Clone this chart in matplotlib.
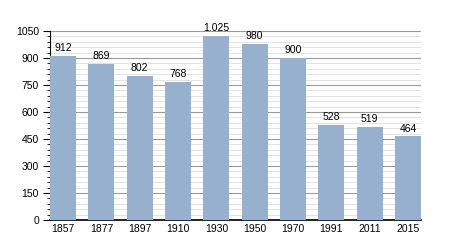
import numpy as np
import matplotlib.pyplot as plt
from matplotlib.ticker import MultipleLocator

plt.rcParams['font.family'] = ['Liberation Sans', 'DejaVu Sans']

years = ['1857', '1877', '1897', '1910', '1930', '1950', '1970', '1991', '2011', '2015']
population = [912, 869, 802, 768, 1025, 980, 900, 528, 519, 464]
labels = ['912', '869', '802', '768', '1.025', '980', '900', '528', '519', '464']

fig = plt.figure(figsize=(4.5, 2.5), dpi=100)
ax = fig.add_axes([50 / 450, 30 / 250, 371 / 450, 189 / 250])

x = np.arange(len(years))
ax.bar(x, population, width=0.68, color='#97b0cd', zorder=3)
for xi, v, lab in zip(x, population, labels):
    ax.text(xi, v + 15, lab, ha='center', va='bottom', fontsize=7.5, zorder=4)

ax.set_xlim(-0.34, len(years) - 1 + 0.34)
ax.set_ylim(0, 1050)
ax.set_xticks(x)
ax.set_xticklabels(years)
ax.yaxis.set_major_locator(MultipleLocator(150))
ax.yaxis.set_minor_locator(MultipleLocator(30))
ax.grid(axis='y', which='major', color='#999999', linewidth=0.8, zorder=0)
ax.grid(axis='y', which='minor', color='#dddddd', linewidth=0.6, zorder=0)

ax.spines['top'].set_visible(False)
ax.spines['right'].set_visible(False)
ax.spines['left'].set_linewidth(0.8)
ax.spines['bottom'].set_linewidth(1.2)
ax.tick_params(axis='x', length=0, labelsize=7.5, pad=3)
ax.tick_params(axis='y', which='major', length=5, labelsize=7.5, pad=3)
ax.tick_params(axis='y', which='minor', length=2.5)

fig.savefig('out.png', dpi=100)
